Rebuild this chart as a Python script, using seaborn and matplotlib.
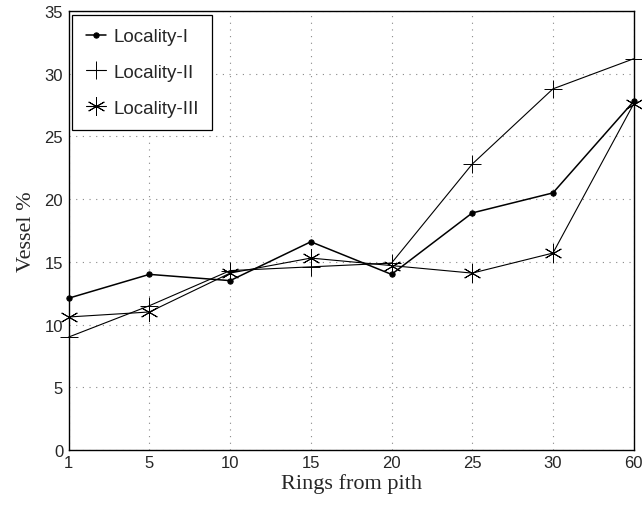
import matplotlib
matplotlib.use("Agg")
import matplotlib.pyplot as plt
import seaborn as sns
import pandas as pd
import numpy as np

rings = ["1", "5", "10", "15", "20", "25", "30", "60"]
locality_1 = [12.1, 14.0, 13.5, 16.6, 14.0, 18.9, 20.5, 27.8]
locality_2 = [9.0, 11.5, 14.3, 14.6, 14.9, 22.8, 28.8, 31.2]
locality_3 = [10.6, 11.0, 14.1, 15.3, 14.7, 14.1, 15.7, 27.6]

sns.set_style("white")
plt.rcParams["font.family"] = ["Liberation Sans", "DejaVu Sans"]

pos = np.arange(len(rings))
df = pd.DataFrame({
    "pos": np.tile(pos, 3),
    "vessel": locality_1 + locality_2 + locality_3,
    "loc": ["Locality-I"] * 8 + ["Locality-II"] * 8 + ["Locality-III"] * 8,
})

fig = plt.figure(figsize=(6.42, 5.06), dpi=100)
ax = fig.add_axes([0.107, 0.109, 0.88, 0.867])

styles = {
    "Locality-I": dict(marker="o", markersize=3.8, lw=1.1),
    "Locality-II": dict(marker="+", markersize=13, mew=0.7, lw=0.8),
    "Locality-III": dict(marker=(6, 2, 0), markersize=13, mew=0.7, lw=0.8),
}
for name, kw in styles.items():
    sns.lineplot(data=df[df["loc"] == name], x="pos", y="vessel", ax=ax,
                 color="black", mec="black", mfc="black", label=name,
                 clip_on=False, zorder=3, **kw)

ax.set_xlim(0, 7)
ax.set_ylim(0, 35)
ax.set_xticks(pos)
ax.set_xticklabels(rings)
ax.set_yticks(range(0, 36, 5))
ax.tick_params(labelsize=12, length=0, pad=4)
ax.grid(True, color="#888888", linestyle=(0, (1, 5)), linewidth=0.8)
for s in ax.spines.values():
    s.set_color("black")
    s.set_linewidth(1.0)

ax.set_xlabel("Rings from pith", family="Liberation Serif", fontsize=16, labelpad=2)
ax.set_ylabel("Vessel %", family="Liberation Serif", fontsize=16, labelpad=6)

leg = ax.legend(loc="upper left", fontsize=13.5, handlelength=1.1, handletextpad=0.4,
                borderaxespad=0.2, fancybox=False, framealpha=1, edgecolor="black",
                labelspacing=1.0, borderpad=0.7)
leg.get_frame().set_linewidth(0.9)
leg.set_zorder(5)

fig.savefig("out.png", dpi=100)
